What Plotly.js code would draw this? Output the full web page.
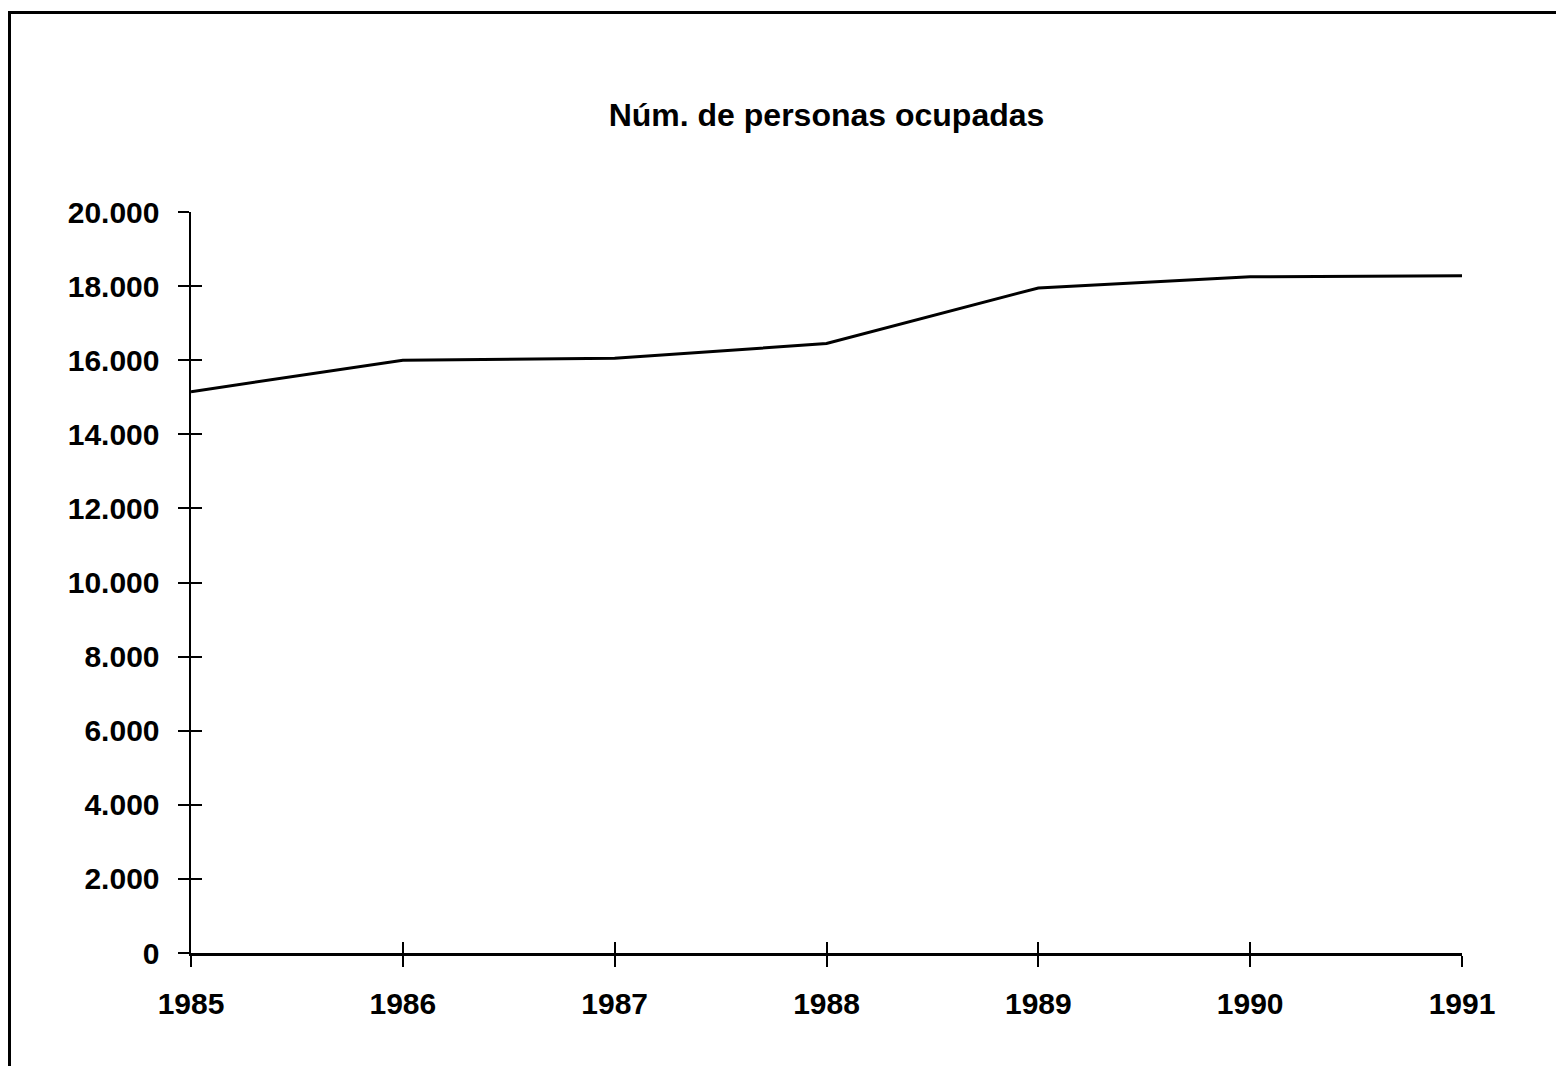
<!DOCTYPE html>
<html>
<head>
<meta charset="utf-8">
<script src="https://cdn.plot.ly/plotly-3.0.1.min.js"></script>
<style>
  html, body { margin: 0; padding: 0; background: #fff; }
  #chart { position: absolute; left: 0; top: 0; width: 1556px; height: 1066px; }
  #frame { position: absolute; left: 8px; top: 11px; width: 1548px; height: 1055px;
           border-top: 3px solid #000; border-left: 3px solid #000; pointer-events: none; }
</style>
</head>
<body>
<div id="chart"></div>
<div id="frame"></div>
<script>
// Data
const years = [1985, 1986, 1987, 1988, 1989, 1990, 1991];
const personasOcupadas = [15150, 16000, 16050, 16450, 17950, 18250, 18280];
const yTickValues = [0, 2000, 4000, 6000, 8000, 10000, 12000, 14000, 16000, 18000, 20000];
const chartTitle = 'Núm. de personas ocupadas';

const FONT = 'Liberation Sans, Arial, Helvetica, sans-serif';

const traces = [
  {
    x: years, y: personasOcupadas, type: 'scatter', mode: 'lines',
    line: { color: '#000', width: 3 }, hoverinfo: 'x+y', showlegend: false
  },
  {
    // same series on the overlay axes so the inward half of the ticks is drawn
    x: years, y: personasOcupadas, type: 'scatter', mode: 'lines',
    xaxis: 'x2', yaxis: 'y2',
    line: { color: 'rgba(0,0,0,0)', width: 0 }, hoverinfo: 'skip', showlegend: false
  }
];

const layout = {
  width: 1556, height: 1066,
  margin: { l: 191, r: 94, t: 212, b: 113 },
  paper_bgcolor: '#fff', plot_bgcolor: '#fff',
  separators: ',.',
  font: { family: FONT, color: '#000' },
  title: {
    text: chartTitle,
    font: { family: FONT, size: 32, weight: 'bold', color: '#000' },
    x: 0.5, xref: 'paper', xanchor: 'center',
    y: 1 - 115 / 1066, yref: 'container', yanchor: 'middle'
  },
  xaxis: {
    range: [1985, 1991], tickvals: years, ticktext: years.map(String),
    showgrid: false, zeroline: false,
    showline: true, linecolor: '#000', linewidth: 3,
    ticks: 'outside', ticklen: 11, tickwidth: 2, tickcolor: '#000',
    ticklabelstandoff: 11,
    tickfont: { family: FONT, size: 30, weight: 'bold', color: '#000' }
  },
  yaxis: {
    range: [0, 20000], tickvals: yTickValues, tickformat: ',d',
    showgrid: false, zeroline: false,
    showline: true, linecolor: '#000', linewidth: 2.5,
    ticks: 'outside', ticklen: 11, tickwidth: 2, tickcolor: '#000',
    ticklabelstandoff: 12,
    tickfont: { family: FONT, size: 30, weight: 'bold', color: '#000' }
  },
  xaxis2: {
    overlaying: 'x', range: [1985, 1991], tickvals: years,
    showticklabels: false, showgrid: false, zeroline: false, showline: false,
    ticks: 'inside', ticklen: 11, tickwidth: 2, tickcolor: '#000', side: 'bottom'
  },
  yaxis2: {
    overlaying: 'y', range: [0, 20000], tickvals: yTickValues,
    showticklabels: false, showgrid: false, zeroline: false, showline: false,
    ticks: 'inside', ticklen: 11, tickwidth: 2, tickcolor: '#000', side: 'left'
  },
  showlegend: false
};

Plotly.newPlot('chart', traces, layout, { displayModeBar: false, staticPlot: true });
</script>
</body>
</html>
